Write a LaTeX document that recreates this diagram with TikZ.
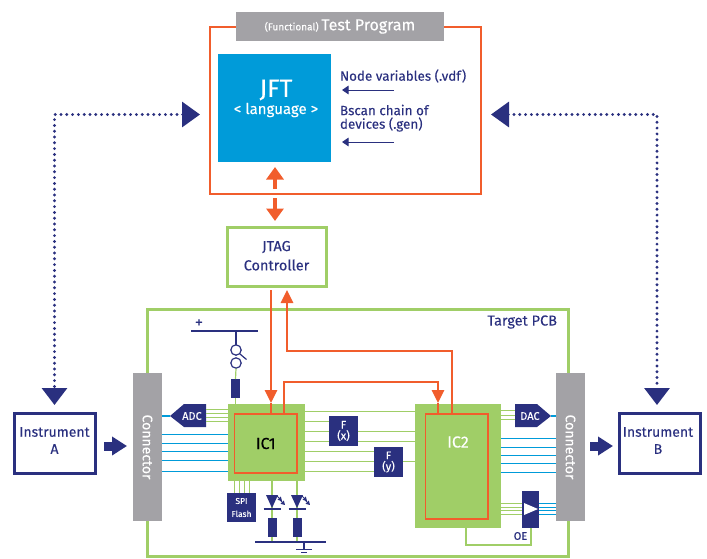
\documentclass[tikz,border=0pt]{standalone}
\usepackage{fontspec}
\setmainfont[FakeBold=0.15]{Fira Sans}
\usetikzlibrary{arrows.meta,calc}
\definecolor{navy}{HTML}{2A307F}
\definecolor{orng}{HTML}{F15D2C}
\definecolor{grn}{HTML}{A0CE67}
\definecolor{sky}{HTML}{009BD9}
\definecolor{gry}{HTML}{A3A2A6}
\newcommand{\fs}[1]{\fontsize{#1}{#1}\selectfont}
% \bx[style]{name}{x1}{y1}{x2}{y2}{text}
\newcommand{\bx}[7][]{\node[boxbase,#1,minimum width={((#5)-(#3))*1pt},minimum height={((#6)-(#4))*1pt}] (#2) at ({((#3)+(#5))/2},{((#4)+(#6))/2}) {#7};}
\tikzset{
 boxbase/.style={rectangle,inner sep=0pt,outer sep=0pt,align=center},
 gbox/.style={fill=gry,text=white},
 navybox/.style={fill=navy,text=white},
 greenfill/.style={fill=grn,text=white},
 orangeline/.style={draw=orng,line width=1.6pt},
 label/.style={inner sep=0pt,outer sep=0pt,text=navy,align=center},
 wlabel/.style={inner sep=0pt,outer sep=0pt,text=white,align=center},
 gw/.style={draw=grn,line width=0.8pt},
 bw/.style={draw=sky,line width=0.9pt},
 gw2/.style={draw=grn,line width=1.2pt},
 nv/.style={draw=navy,line width=1.2pt},
 oarrow/.style={draw=orng,line width=1.7pt,-{Triangle[width=12.5pt,length=13pt]}},
 oline/.style={draw=orng,line width=1.7pt},
 bigo/.style={draw=orng,line width=3.4pt,-{Triangle[width=17pt,length=12.5pt]}},
 dotarrow/.style={draw=navy,line width=3.2pt,line cap=round,dash pattern=on 0pt off 5.8pt,{Triangle[width=25pt,length=18pt]}-{Triangle[width=25pt,length=17pt]}},
 fat/.style={draw=navy,line width=9pt,-{Triangle[width=18pt,length=15pt]}},
 thinarr/.style={draw=navy,line width=1pt,-{Triangle[width=8.5pt,length=6.5pt]}},
 tiny/.style={draw=navy,line width=0.9pt,-{Triangle[width=4.5pt,length=4pt]}},
}
\begin{document}
\begin{tikzpicture}[x=1pt,y=-1pt]
\useasboundingbox (0,0) rectangle (707,558);
% ---- Program
\bx[draw=orng,line width=2pt]{prog}{210}{27}{480.5}{193.5}{}
\bx[gbox]{title}{236}{12}{444}{41}{{\fs{10}(Functional)} {\fs{16}Test Program}}
\bx[fill=sky]{jft}{218}{54}{331}{162}{}
\node[wlabel,font=\fs{25}] (jftt) at (276,90) {JFT};
\node[wlabel,font=\fs{15}] (jftl) at (276,110) {< language >};
\node[label,anchor=west,font=\fs{13.4}] (nv) at (340,76) {Node variables (.vdf)};
\node[label,anchor=west,align=left,font=\fs{13.4}] (bs) at (340,110) {Bscan chain of};
\node[label,anchor=west,align=left,font=\fs{13.4}] (dv) at (340,124.5) {devices (.gen)};
\coordinate (a1s) at (394,90); \coordinate (a1e) at (342,90);
\coordinate (a2s) at (394,142); \coordinate (a2e) at (342,142);
\draw[thinarr] (a1s) -- (a1e);
\draw[thinarr] (a2s) -- (a2e);
% ---- JTAG
\bx[draw=grn,line width=3pt]{jtag}{227.5}{227.5}{326}{286}{}
\node[label,font=\fs{14.5}] (jt) at (276.5,247) {JTAG};
\node[label,font=\fs{14.5}] (jc) at (276.5,265) {Controller};
\coordinate (up0) at (275,189); \coordinate (up1) at (275,167);
\coordinate (dn0) at (275,198); \coordinate (dn1) at (275,221);
\draw[bigo] (up0) -- (up1);
\draw[bigo] (dn0) -- (dn1);
% ---- PCB
\bx[draw=grn,line width=3pt]{pcb}{147}{309.5}{568}{556.5}{}
\node[label,anchor=east,font=\fs{14.5}] (pcbt) at (557,322) {Target PCB};
% ---- signal lines IC1 - IC2 (under the boxes)
\bx[greenfill]{ic1}{228}{404}{305}{481}{}
\bx[greenfill]{ic2}{415}{404}{501}{528}{}
\bx[gbox]{conl}{133}{373}{162}{521}{\rotatebox{-90}{\fs{14}Connector}}
\bx[gbox]{conr}{556}{373}{585}{521}{\rotatebox{-90}{\fs{14}Connector}}
\foreach \y/\xe in {411/415,421/358,431/415,441/415,451/403,461/415,471/403}
  \draw[gw] (ic1.east |- 0,\y) -- (\xe,\y);
\foreach \y in {434,443,451,460,471}
  \draw[bw] (conl.east |- 0,\y) -- (ic1.west |- 0,\y);
\foreach \y in {438,447,455,463,472}
  \draw[bw] (ic2.east |- 0,\y) -- (conr.west |- 0,\y);
% F boxes
\bx[navybox]{fx}{329}{416}{358}{446}{\fs{11}F\\[-1pt]\fs{11}(x)}
\bx[navybox]{fy}{374}{447}{403}{477}{\fs{11}F\\[-1pt]\fs{11}(y)}
% IC inner
\bx[orangeline]{ic1in}{234.5}{414}{297}{473}{\fs{16}IC1}
\bx[orangeline]{ic2in}{425.5}{414}{488}{519}{}
\node[wlabel,font=\fs{16}] (ic2t) at (458,442) {IC2};
% ---- orange signals
\coordinate (s1) at (271,403);
\draw[oarrow] (271,290) -- (s1);
\draw[oline] (s1) -- (271,414);
\coordinate (s2) at (438,403);
\draw[oarrow] (284,414) |- (438,382) -- (s2);
\draw[oline] (s2) -- (438,414);
\draw[oarrow] (452,414) |- (287,351) -- (287,290);
% ---- ADC / DAC
\fill[navy] (206,404) -- (184,404) -- (170,416) -- (184,427) -- (206,427) -- cycle;
\node[wlabel,font=\fs{11}] (adc) at (192,416) {ADC};
\fill[navy] (515,404) -- (537,404) -- (551,416) -- (537,427) -- (515,427) -- cycle;
\node[wlabel,font=\fs{11}] (dac) at (530,416) {DAC};
\coordinate (adct) at (170,416); \coordinate (dact) at (551,416);
\draw[draw=sky,line width=1.6pt] (conl.east |- adct) -- (adct);
\draw[draw=sky,line width=1.4pt] (dact) -- (conr.west |- dact);
\foreach \y in {409,413,417,421}
  \draw[gw] (206,\y) -- (ic1.west |- 0,\y);
\foreach \y in {410,415,419}
  \draw[gw] (ic2.east |- 0,\y) -- (515,\y);
% ---- buffer
\bx[navybox]{buf}{522}{491}{539}{528}{}
\fill[white] (524,503) -- (538,509) -- (524,515) -- cycle;
\foreach \y in {503,507,510,514} {
  \draw[gw] (ic2.east |- 0,\y) -- (buf.west |- 0,\y);
  \draw[bw] (buf.east |- 0,\y) -- (conr.west |- 0,\y);
}
\draw[gw2] (466,528) |- (531,545) -- (531,528);
\node[label,font=\fs{11}] (oe) at (520.5,536) {OE};
% ---- supply
\coordinate (vl) at (191,331); \coordinate (vr) at (258,331);
\draw[nv,line width=1.5pt] (vl) -- (vr);
\node[label,font=\fs{16}] (plus) at (199,323.5) {+};
\draw[nv] (236,331) -- (236,344.5);
\draw[nv] (236,350) circle (5.2);
\draw[nv] (236,363) circle (5.2);
\draw[nv] (240,354) -- (246.5,359.5);
\bx[navybox]{res}{231}{379}{240}{398}{}
\draw[gw2] (236,368.5) -- (res.north);
\draw[gw2] (res.south) -- (ic1.north -| res.south);
% ---- SPI
\bx[navybox]{spi}{227}{493}{256}{522}{\fs{8.5}SPI\\[1pt]\fs{8.5}Flash}
\foreach \x in {234,239,244,249}
  \draw[gw] (\x,481) -- (\x,493);
% ---- LEDs
\coordinate (gl) at (255,542); \coordinate (gr) at (326,542);
\foreach \n/\x in {a/272,b/297} {
  \draw[gw2] (\x,481) -- (\x,518);
  \bx[navybox]{r\n}{\x-4.5}{518}{\x+4.5}{537}{}
  \draw[gw2] (r\n.south) -- (\x,542);
  \fill[navy] (\x-6,495) -- (\x+6,495) -- (\x,508) -- cycle;
  \draw[nv,line width=1.3pt] (\x-8.5,509) -- (\x+8.5,509);
  \draw[tiny] (\x+5,496) -- (\x+10,501);
  \draw[tiny] (\x+8,500) -- (\x+13,505);
}
\draw[nv,line width=1.5pt] (gl) -- (gr);
\draw[nv,line width=1.5pt] (304,542) -- (304,549.5);
\draw[nv,line width=1.5pt] (296,549.5) -- (312,549.5);
\draw[nv,line width=1.5pt] (301,552.5) -- (307,552.5);
% ---- Instruments
\bx[draw=navy,line width=3pt]{ia}{14.5}{413.5}{95}{473}{}
\bx[draw=navy,line width=3pt]{ib}{619.5}{413.5}{700}{473}{}
\node[label,font=\fs{14}] (iat) at (54.5,432) {Instrument};
\node[label,font=\fs{14}] (iaa) at (54.5,449) {A};
\node[label,font=\fs{14}] (ibt) at (658,432) {Instrument};
\node[label,font=\fs{14}] (ibb) at (658,449) {B};
\draw[fat] (104,446) -- (127,446);
\draw[fat] (590,446) -- (613,446);
% ---- dotted
\coordinate (dl) at (200,114.5); \coordinate (dr) at (491,114.5);
\coordinate (dla) at (54.5,405); \coordinate (dra) at (657,405);
\draw[dotarrow] (dl) -| (dla);
\draw[dotarrow] (dr) -| (dra);
\end{tikzpicture}
\end{document}
